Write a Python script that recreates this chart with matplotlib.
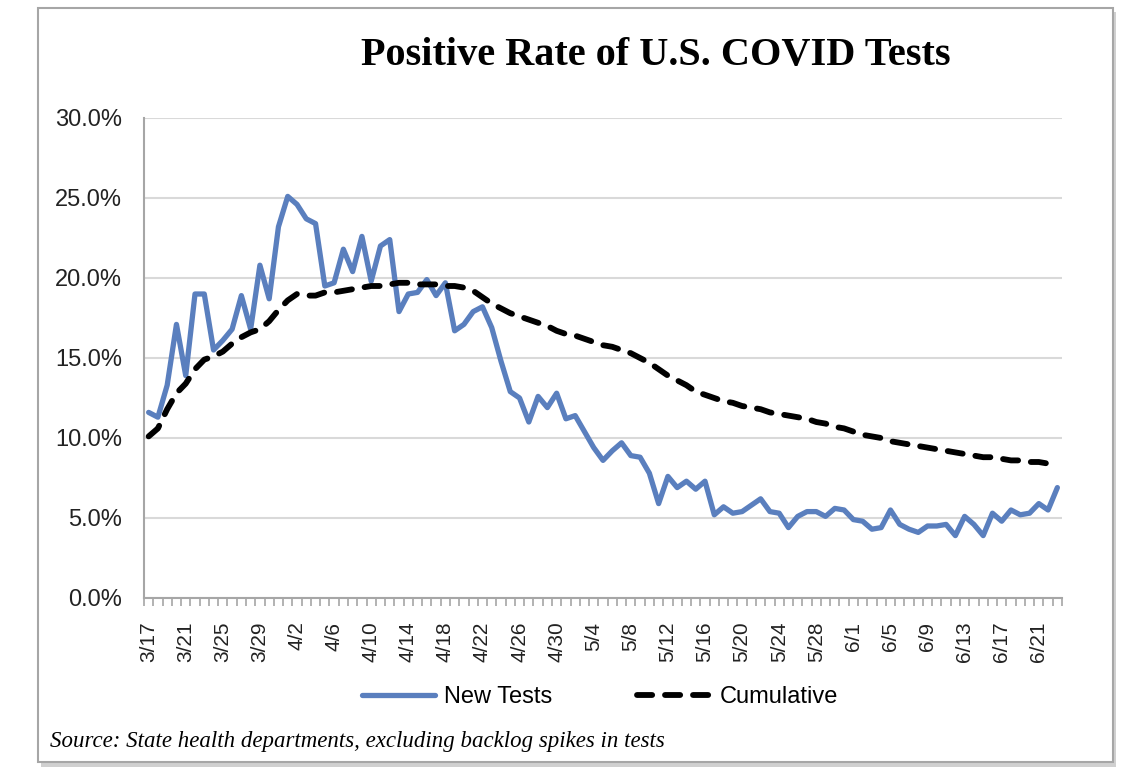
import matplotlib
matplotlib.use("Agg")
import matplotlib.pyplot as plt
from matplotlib.patches import Rectangle
import datetime as dt

# ---- data ----
start_date = dt.date(2020, 3, 17)
n_days = 99
dates = [start_date + dt.timedelta(days=i) for i in range(n_days)]
date_labels = [f"{d.month}/{d.day}" for d in dates]

new_tests = [
    11.6, 11.3, 13.3, 17.1, 13.9, 19.0, 19.0, 15.5, 16.1, 16.8,
    18.9, 16.8, 20.8, 18.7, 23.2, 25.1, 24.6, 23.7, 23.4, 19.5,
    19.7, 21.8, 20.4, 22.6, 19.8, 22.0, 22.4, 17.9, 19.0, 19.1,
    19.9, 18.9, 19.7, 16.7, 17.1, 17.9, 18.2, 16.9, 14.8, 12.9,
    12.5, 11.0, 12.6, 11.9, 12.8, 11.2, 11.4, 10.4, 9.4, 8.6,
    9.2, 9.7, 8.9, 8.8, 7.8, 5.9, 7.6, 6.9, 7.3, 6.8,
    7.3, 5.2, 5.7, 5.3, 5.4, 5.8, 6.2, 5.4, 5.3, 4.4,
    5.1, 5.4, 5.4, 5.1, 5.6, 5.5, 4.9, 4.8, 4.3, 4.4,
    5.5, 4.6, 4.3, 4.1, 4.5, 4.5, 4.6, 3.9, 5.1, 4.6,
    3.9, 5.3, 4.8, 5.5, 5.2, 5.3, 5.9, 5.5, 6.9,
]

cumulative = [
    10.1, 10.6, 11.8, 12.8, 13.4, 14.3, 14.9, 15.1, 15.4, 15.9,
    16.3, 16.6, 16.8, 17.3, 18.0, 18.6, 19.0, 18.9, 18.9, 19.1,
    19.1, 19.2, 19.3, 19.4, 19.5, 19.5, 19.6, 19.7, 19.7, 19.6,
    19.6, 19.6, 19.5, 19.5, 19.4, 19.2, 18.8, 18.4, 18.1, 17.8,
    17.6, 17.4, 17.2, 17.0, 16.7, 16.5, 16.4, 16.2, 16.0, 15.8,
    15.7, 15.5, 15.3, 15.0, 14.7, 14.3, 13.9, 13.6, 13.3, 12.9,
    12.7, 12.5, 12.3, 12.2, 12.0, 11.9, 11.8, 11.6, 11.5, 11.4,
    11.3, 11.2, 11.0, 10.9, 10.7, 10.6, 10.4, 10.2, 10.1, 10.0,
    9.8, 9.7, 9.6, 9.5, 9.4, 9.3, 9.2, 9.1, 9.0, 8.9,
    8.8, 8.8, 8.7, 8.6, 8.6, 8.5, 8.5, 8.4, 8.3,
]

y_ticks = [0, 5, 10, 15, 20, 25, 30]
y_tick_labels = [f"{v:.1f}%" for v in y_ticks]
label_step = 4

title = "Positive Rate of U.S. COVID Tests"
source = "Source: State health departments, excluding backlog spikes in tests"
series_names = ["New Tests", "Cumulative"]

# ---- figure ----
W, H = 1134, 782
fig = plt.figure(figsize=(W / 100, H / 100), dpi=100)
fig.patch.set_facecolor("white")

# frame with soft shadow
fig.patches.append(Rectangle((41 / W, 1 - 767 / H), (1116 - 41) / W, (767 - 12) / H,
                             transform=fig.transFigure, facecolor="#d0d0d0",
                             edgecolor="none", zorder=0))
fig.patches.append(Rectangle((38 / W, 1 - 762 / H), (1113 - 38) / W, (762 - 8) / H,
                             transform=fig.transFigure, facecolor="white",
                             edgecolor="#a6a6a6", lw=1.5, zorder=1))

ax = fig.add_axes([144 / W, 1 - 598 / H, (1062 - 144) / W, (598 - 118) / H])
ax.set_facecolor("white")
ax.set_zorder(2)

x = list(range(n_days))
blue_line, = ax.plot(x, new_tests, color="#5a7fbe", lw=3.8, solid_joinstyle="round",
                     solid_capstyle="round", zorder=3)
cum_line, = ax.plot(x, cumulative, color="black", lw=4.2, linestyle=(0, (2.6, 2.2)),
                    dash_capstyle="round", zorder=4)

ax.set_xlim(-0.5, n_days - 0.5)
ax.set_ylim(0, 30)
ax.set_yticks(y_ticks)
ax.set_yticklabels(y_tick_labels, fontsize=17, family=["Liberation Sans", "DejaVu Sans"],
                   color="#222222")
ax.tick_params(axis="y", length=0, pad=16)
ax.yaxis.grid(True, color="#d9d9d9", lw=1.5)
ax.set_axisbelow(True)

lab_pos = list(range(0, n_days, label_step))
ax.set_xticks(lab_pos)
ax.set_xticklabels([date_labels[i] for i in lab_pos], rotation=90, fontsize=15,
                   family=["Liberation Sans", "DejaVu Sans"],
                   color="#222222", va="top")
ax.set_xticks([i - 0.5 for i in range(n_days + 1)], minor=True)
ax.tick_params(axis="x", which="major", length=0, pad=17)
ax.tick_params(axis="x", which="minor", length=6, width=1.2, color="#a6a6a6")

for s in ["top", "right"]:
    ax.spines[s].set_visible(False)
for s in ["left", "bottom"]:
    ax.spines[s].set_color("#a6a6a6")
    ax.spines[s].set_linewidth(1.5)

fig.text(656 / W, 1 - 55 / H, title, ha="center", va="center", fontsize=29,
         fontweight="bold", family=["Liberation Serif", "DejaVu Serif"], color="black")

leg = fig.legend([blue_line, cum_line], series_names, loc="center",
                 bbox_to_anchor=(600 / W, 1 - 697 / H), ncol=2, frameon=False,
                 prop={"family": ["Liberation Sans", "DejaVu Sans"], "size": 17},
                 handlelength=3.1, handletextpad=0.4, columnspacing=3.6)

fig.text(50 / W, 1 - 741 / H, source, ha="left", va="center", fontsize=16.5,
         style="italic", family=["Liberation Serif", "DejaVu Serif"], color="black")

fig.savefig("out.png", dpi=100, facecolor="white")
